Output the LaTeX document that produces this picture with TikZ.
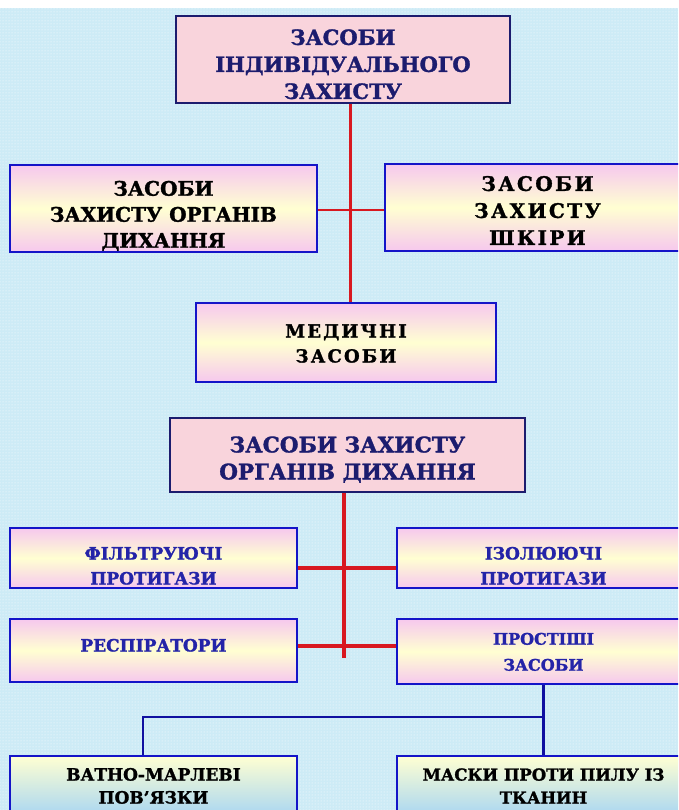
\documentclass[tikz,border=0pt]{standalone}
\usepackage{fontspec}
\setmainfont{DejaVu Serif}[BoldFeatures={FakeBold=1.5}]
\newfontfamily\spacedfont{DejaVu Serif}[LetterSpace=12,BoldFeatures={FakeBold=1.5}]
\usetikzlibrary{patterns}
\definecolor{bgblue}{HTML}{CDEBF6}
\definecolor{navy}{HTML}{1C1C6E}
\definecolor{boxblue}{HTML}{1414C8}
\definecolor{palepink}{HTML}{F9D4DC}
\definecolor{boxpink}{HTML}{F6C8EE}
\definecolor{boxyellow}{HTML}{FFFFD2}
\definecolor{lightsky}{HTML}{A9D6F2}
\definecolor{linered}{HTML}{D81820}
\definecolor{textblue}{HTML}{2424A8}
\newcommand{\lowered}[2]{\raisebox{0pt}[\dimexpr\height+#1\relax][\dimexpr\depth-#1\relax]{\begin{tabular}{@{}c@{}}#2\end{tabular}}}
\begin{document}
\begin{tikzpicture}[x=1pt,y=-1pt,
    box/.style={draw=boxblue,line width=2.6pt,inner sep=0pt},
    pinkbox/.style={box,draw=navy,fill=palepink,text=navy},
    glowbox/.style={box,top color=boxpink,bottom color=boxpink,middle color=boxyellow},
    skybox/.style={box,top color=boxyellow,bottom color=lightsky},
    redline/.style={draw=linered,line width=3pt},
    blueline/.style={draw=boxblue!80!black,line width=2.6pt}]
  \useasboundingbox (0,0) rectangle (678,810);
  \clip (0,0) rectangle (678,810);
  \fill[bgblue] (0,0) rectangle (678,810);
  \fill[pattern=dots,pattern color=white] (0,0) rectangle (678,810);
  \fill[white] (0,0) rectangle (678,8);
  \node[pinkbox,minimum width=334,minimum height=87,font=\bfseries\fontsize{21}{27}\selectfont] (ipz) at (343,59.5) {\lowered{7pt}{ЗАСОБИ\\ІНДИВІДУАЛЬНОГО\\ЗАХИСТУ}};
  \node[glowbox,minimum width=307,minimum height=87,font=\bfseries\fontsize{20}{26}\selectfont] (dyh) at (163.5,208.5) {\lowered{8pt}{ЗАСОБИ\\ЗАХИСТУ ОРГАНІВ\\ДИХАННЯ}};
  \node[glowbox,minimum width=305,minimum height=87,font=\spacedfont\bfseries\fontsize{20}{27}\selectfont] (shk) at (537.5,207.5) {\lowered{5pt}{ЗАСОБИ\\ЗАХИСТУ\\ШКІРИ}};
  \node[glowbox,minimum width=300,minimum height=79,font=\spacedfont\bfseries\fontsize{18}{25}\selectfont] (med) at (346,342.5) {\lowered{2.5pt}{МЕДИЧНІ\\ЗАСОБИ}};
  \coordinate (trunk) at (350,210);
  \draw[redline] (ipz.south -| trunk) -- (med.north -| trunk);
  \draw[redline,line width=2.4pt] (dyh.east |- trunk) -- (shk.west |- trunk);
  \node[pinkbox,minimum width=355,minimum height=74,font=\bfseries\fontsize{21.5}{27}\selectfont] (zod) at (347.5,455) {\lowered{5.5pt}{ЗАСОБИ ЗАХИСТУ\\ОРГАНІВ ДИХАННЯ}};
  \node[glowbox,text=textblue,minimum width=287,minimum height=60,font=\bfseries\fontsize{17}{25}\selectfont] (fil) at (153.5,558) {\lowered{9pt}{ФІЛЬТРУЮЧІ\\ПРОТИГАЗИ}};
  \node[glowbox,text=textblue,minimum width=293,minimum height=60,font=\bfseries\fontsize{17}{25}\selectfont] (izo) at (543.5,558) {\lowered{9pt}{ІЗОЛЮЮЧІ\\ПРОТИГАЗИ}};
  \node[glowbox,text=textblue,minimum width=287,minimum height=63,font=\bfseries\fontsize{17}{25}\selectfont] (res) at (153.5,650.5) {\lowered{-4pt}{РЕСПІРАТОРИ}};
  \node[glowbox,text=textblue,minimum width=293,minimum height=65,font=\bfseries\fontsize{16}{26}\selectfont] (pro) at (543.5,651.5) {\lowered{1pt}{ПРОСТІШІ\\ЗАСОБИ}};
  \coordinate (hubA) at (344,568);
  \coordinate (hubB) at (344,646);
  \coordinate (stem) at (344,658);
  \draw[redline,line width=3.6pt] (zod.south -| stem) -- (stem);
  \draw[redline,line width=3.6pt] (fil.east |- hubA) -- (izo.west |- hubA);
  \draw[redline,line width=3.6pt] (res.east |- hubB) -- (pro.west |- hubB);
  \node[skybox,minimum width=287,minimum height=60,font=\bfseries\fontsize{17}{23}\selectfont] (vat) at (153.5,786) {\lowered{1.5pt}{ВАТНО-МАРЛЕВІ\\ПОВ'ЯЗКИ}};
  \node[skybox,minimum width=293,minimum height=60,font=\bfseries\fontsize{16.5}{23}\selectfont] (mas) at (543.5,786) {\lowered{1.5pt}{МАСКИ ПРОТИ ПИЛУ ІЗ\\ТКАНИН}};
  \coordinate (elbow) at (143,717);
  \draw[blueline] (pro.south) -- (mas.north);
  \draw[blueline] (pro.south |- elbow) -- (elbow) -- (vat.north -| elbow);
\end{tikzpicture}
\end{document}
